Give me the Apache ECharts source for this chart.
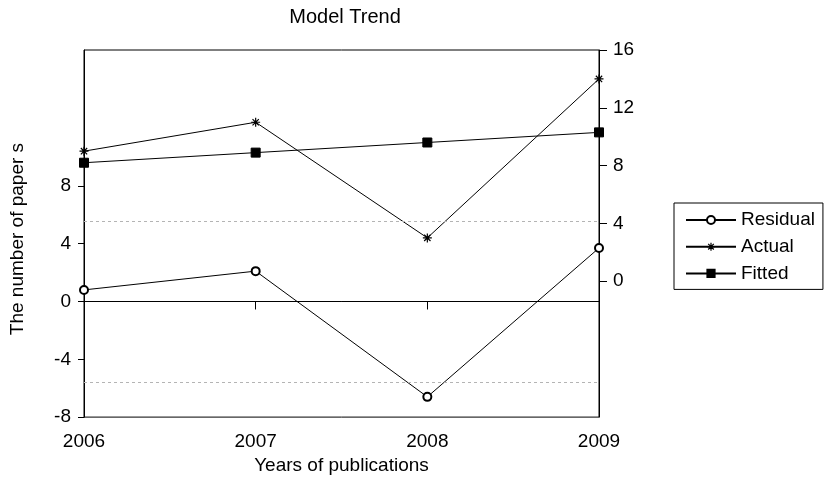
<!DOCTYPE html>
<html>
<head>
<meta charset="utf-8">
<script src="https://cdn.jsdelivr.net/npm/echarts@6/dist/echarts.min.js"></script>
<style>
  html, body { margin: 0; padding: 0; background: #fff; }
  #chart { width: 824px; height: 480px; }
</style>
</head>
<body>
<div id="chart"></div>
<script>
// Years on the horizontal axis
const years = ['2006', '2007', '2008', '2009'];
// Observed number of papers (right axis)
const actual = [9, 11, 3, 14];
// Linear trend fit (right axis)
const fitted = [8.2, 8.9, 9.6, 10.3];
// Actual minus fitted (left axis)
const residual = [0.8, 2.1, -6.6, 3.7];
// Residual standard error band
const residualSE = 5.58;
// Tick labels on each vertical axis
const leftTicks = [-8, -4, 0, 4, 8];
const rightTicks = [0, 4, 8, 12, 16];

const FONT = 'Liberation Sans, Arial, sans-serif';
const FS = 19;

// Asterisk marker drawn as stroked strokes
const starPath = 'path://M0,5L10,5M5,0L5,10M1.5,1.5L8.5,8.5M8.5,1.5L1.5,8.5';

const chart = echarts.init(document.getElementById('chart'), null, { renderer: 'canvas' });

chart.setOption({
  animation: false,
  backgroundColor: '#fff',
  title: {
    text: 'Model Trend',
    left: 340,
    top: 2,
    textAlign: 'center',
    textStyle: { fontFamily: FONT, fontSize: 20, fontWeight: 'normal', color: '#000' }
  },
  legend: {
    orient: 'vertical',
    left: 674,
    top: 203,
    data: ['Residual', 'Actual', 'Fitted'],
    itemWidth: 50,
    itemHeight: 10,
    itemGap: 6.7,
    padding: [7, 8, 6, 11],
    borderColor: '#000',
    borderWidth: 1,
    borderRadius: 0,
    itemStyle: { borderWidth: 1.2 },
    textStyle: { fontFamily: FONT, fontSize: FS, lineHeight: 20, color: '#000' }
  },
  grid: {
    left: 81,
    right: 225,
    top: 50,
    bottom: 62,
    show: true,
    borderColor: '#000',
    borderWidth: 1,
    containLabel: false
  },
  xAxis: {
    type: 'category',
    data: years,
    boundaryGap: false,
    name: 'Years of publications',
    nameLocation: 'middle',
    nameGap: 35,
    nameTextStyle: { fontFamily: FONT, fontSize: FS, color: '#000' },
    axisLine: { lineStyle: { color: '#000', width: 1 } },
    axisTick: { show: true, inside: false, length: 8, lineStyle: { color: '#000' } },
    axisLabel: { fontFamily: FONT, fontSize: FS, color: '#000', margin: 15 },
    splitLine: { show: false }
  },
  yAxis: [
    {
      type: 'value',
      position: 'left',
      min: -8,
      max: 17.4,
      name: 'The number of paper s',
      nameLocation: 'middle',
      nameGap: 57,
      nameTextStyle: { fontFamily: FONT, fontSize: FS, color: '#000', padding: [0, 0, 0, -11] },
      axisLine: { show: true, lineStyle: { color: '#000', width: 1 } },
      axisTick: { show: true, length: 6, customValues: leftTicks, lineStyle: { color: '#000' } },
      axisLabel: { customValues: leftTicks, fontFamily: FONT, fontSize: FS, color: '#000', margin: 13 },
      splitLine: { show: false }
    },
    {
      type: 'value',
      position: 'right',
      min: -9.4,
      max: 16,
      axisLine: { show: true, lineStyle: { color: '#000', width: 1 } },
      axisTick: { show: true, length: 8, customValues: rightTicks, lineStyle: { color: '#000' } },
      axisLabel: { customValues: rightTicks, fontFamily: FONT, fontSize: FS, color: '#000', margin: 14 },
      splitLine: { show: false }
    }
  ],
  series: [
    {
      name: 'Residual',
      type: 'line',
      yAxisIndex: 0,
      data: residual,
      symbol: 'emptyCircle',
      symbolSize: 8,
      lineStyle: { color: '#000', width: 1 },
      itemStyle: { color: '#000', borderColor: '#000', borderWidth: 1.2 },
      markLine: {
        silent: true,
        symbol: 'none',
        label: { show: false },
        data: [
          { yAxis: 0, lineStyle: { color: '#000', width: 1, type: 'solid' } },
          { yAxis: residualSE, lineStyle: { color: '#b4b4b4', width: 1, type: [3, 3] } },
          { yAxis: -residualSE, lineStyle: { color: '#b4b4b4', width: 1, type: [3, 3] } }
        ]
      },
      z: 3
    },
    {
      name: 'Actual',
      type: 'line',
      yAxisIndex: 1,
      data: actual,
      symbol: starPath,
      symbolSize: 9,
      lineStyle: { color: '#000', width: 1 },
      itemStyle: { color: '#000', borderColor: '#000', borderWidth: 1.2 },
      z: 3
    },
    {
      name: 'Fitted',
      type: 'line',
      yAxisIndex: 1,
      data: fitted,
      symbol: 'rect',
      symbolSize: 9,
      lineStyle: { color: '#000', width: 1 },
      itemStyle: { color: '#000', borderColor: '#000' },
      z: 3
    }
  ]
});
</script>
</body>
</html>
